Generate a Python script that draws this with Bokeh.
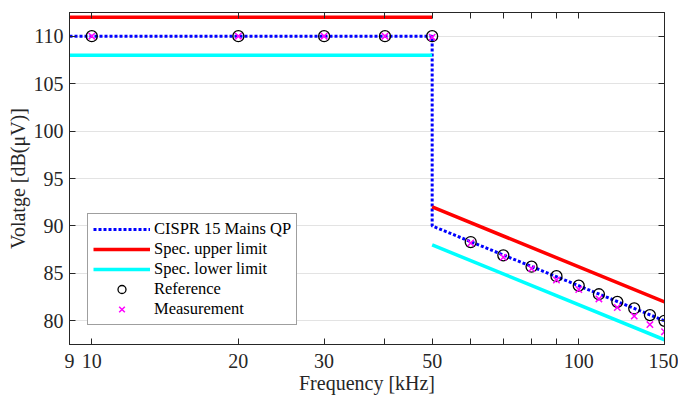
import math
from bokeh.plotting import figure
from bokeh.models import (Range1d, FixedTicker, Legend, LegendItem, NumeralTickFormatter,
                          LogAxis, LinearAxis, CustomLabelingPolicy)
from bokeh.embed import file_html
from bokeh.resources import INLINE

# ---- data ----
cispr_f = [9, 50, 50, 150]
cispr_db = [110, 110, 90, 80]
upper_f = [9, 50, float("nan"), 50, 150]
upper_db = [112, 112, float("nan"), 92, 82]
lower_f = [9, 50, float("nan"), 50, 150]
lower_db = [108, 108, float("nan"), 88, 78]
ref_f = [10, 20, 30, 40, 50, 60, 70, 80, 90, 100, 110, 120, 130, 140, 150]
ref_db = [110, 110, 110, 110, 110, 88.3, 86.9, 85.7, 84.7, 83.7, 82.8, 82.0, 81.3, 80.6, 80.0]
meas_db = [110, 110, 110, 110, 109.9, 88.2, 86.7, 85.5, 84.3, 83.3, 82.3, 81.4, 80.5, 79.6, 78.85]

x_ticks = [9, 10, 20, 30, 40, 50, 60, 70, 80, 90, 100, 150]
x_labeled = [9, 10, 20, 30, 50, 100, 150]
y_ticks = [80, 85, 90, 95, 100, 105, 110]
X_MIN, X_MAX = 9, 150
Y_MIN, Y_MAX = 77.5, 112.5

FONT = "Liberation Serif"
AX = "#262626"

p = figure(width=678, height=398, output_backend="svg", toolbar_location=None,
           x_axis_type="log", x_range=Range1d(X_MIN, X_MAX), y_range=Range1d(Y_MIN, Y_MAX),
           min_border_left=69, min_border_right=14, min_border_top=12, min_border_bottom=54,
           background_fill_color="white", border_fill_color="white",
           outline_line_color=AX)

overrides = {t: ("" if t not in x_labeled else str(t)) for t in x_ticks}

def style(ax, labels=True):
    ax.major_tick_in = 6
    ax.major_tick_out = 0
    ax.minor_tick_in = 0
    ax.minor_tick_out = 0
    ax.axis_line_color = AX
    ax.major_tick_line_color = AX
    ax.major_label_text_font = FONT
    ax.major_label_text_color = AX
    ax.axis_label_text_font = FONT
    ax.axis_label_text_font_style = "normal"
    ax.axis_label_text_font_size = "20px"
    ax.axis_label_text_color = AX
    if labels:
        ax.major_label_text_font_size = "20px"
    else:
        ax.major_label_text_font_size = "0px"
        ax.major_label_standoff = 0
        ax.major_label_policy = CustomLabelingPolicy(code="return new Set()")

xa = p.xaxis[0]
xa.ticker = FixedTicker(ticks=x_ticks)
xa.formatter = NumeralTickFormatter(format="0")
xa.major_label_overrides = overrides
xa.axis_label = "Frequency [kHz]"
style(xa)
xa.major_label_standoff = 9
xa.axis_label_standoff = 1

ya = p.yaxis[0]
ya.ticker = FixedTicker(ticks=y_ticks)
ya.axis_label = "Volatge [dB(μV)]"
style(ya)
ya.major_label_standoff = 6
ya.axis_label_standoff = 2

top = LogAxis(ticker=FixedTicker(ticks=x_ticks))
style(top, labels=False)
p.add_layout(top, "above")
right = LinearAxis(ticker=FixedTicker(ticks=y_ticks))
style(right, labels=False)
p.add_layout(right, "right")

p.xgrid.visible = False
p.ygrid.ticker = FixedTicker(ticks=y_ticks)
p.ygrid.grid_line_color = "#e3e3e3"
p.ygrid.grid_line_width = 1

r_cispr = p.line(cispr_f, cispr_db, line_color="#0000ff", line_width=3, line_dash="3 2")
r_up = p.line(upper_f, upper_db, line_color="#ff0000", line_width=3.5)
r_lo = p.line(lower_f, lower_db, line_color="#00ffff", line_width=3.5)
r_ref = p.scatter(ref_f, ref_db, marker="circle", size=11, fill_color=None,
                  line_color="black", line_width=1.3)
r_meas = p.scatter(ref_f, meas_db, marker="x", size=9, line_color="#ff00ff", line_width=1.5)

legend = Legend(items=[
    LegendItem(label="CISPR 15 Mains QP", renderers=[r_cispr]),
    LegendItem(label="Spec. upper limit", renderers=[r_up]),
    LegendItem(label="Spec. lower limit", renderers=[r_lo]),
    LegendItem(label="Reference", renderers=[r_ref]),
    LegendItem(label="Measurement", renderers=[r_meas]),
], location=(18, 19))
legend.label_text_font = FONT
legend.label_text_font_size = "16.5px"
legend.label_text_color = "black"
legend.label_height = 20
legend.glyph_height = 20
legend.glyph_width = 57
legend.label_standoff = 4
legend.spacing = 0
legend.padding = 5
legend.margin = 0
legend.border_line_color = "#404040"
legend.border_line_width = 1
legend.background_fill_color = "white"
legend.background_fill_alpha = 1
p.add_layout(legend, "center")

open("out.html", "w").write(file_html(p, INLINE))
